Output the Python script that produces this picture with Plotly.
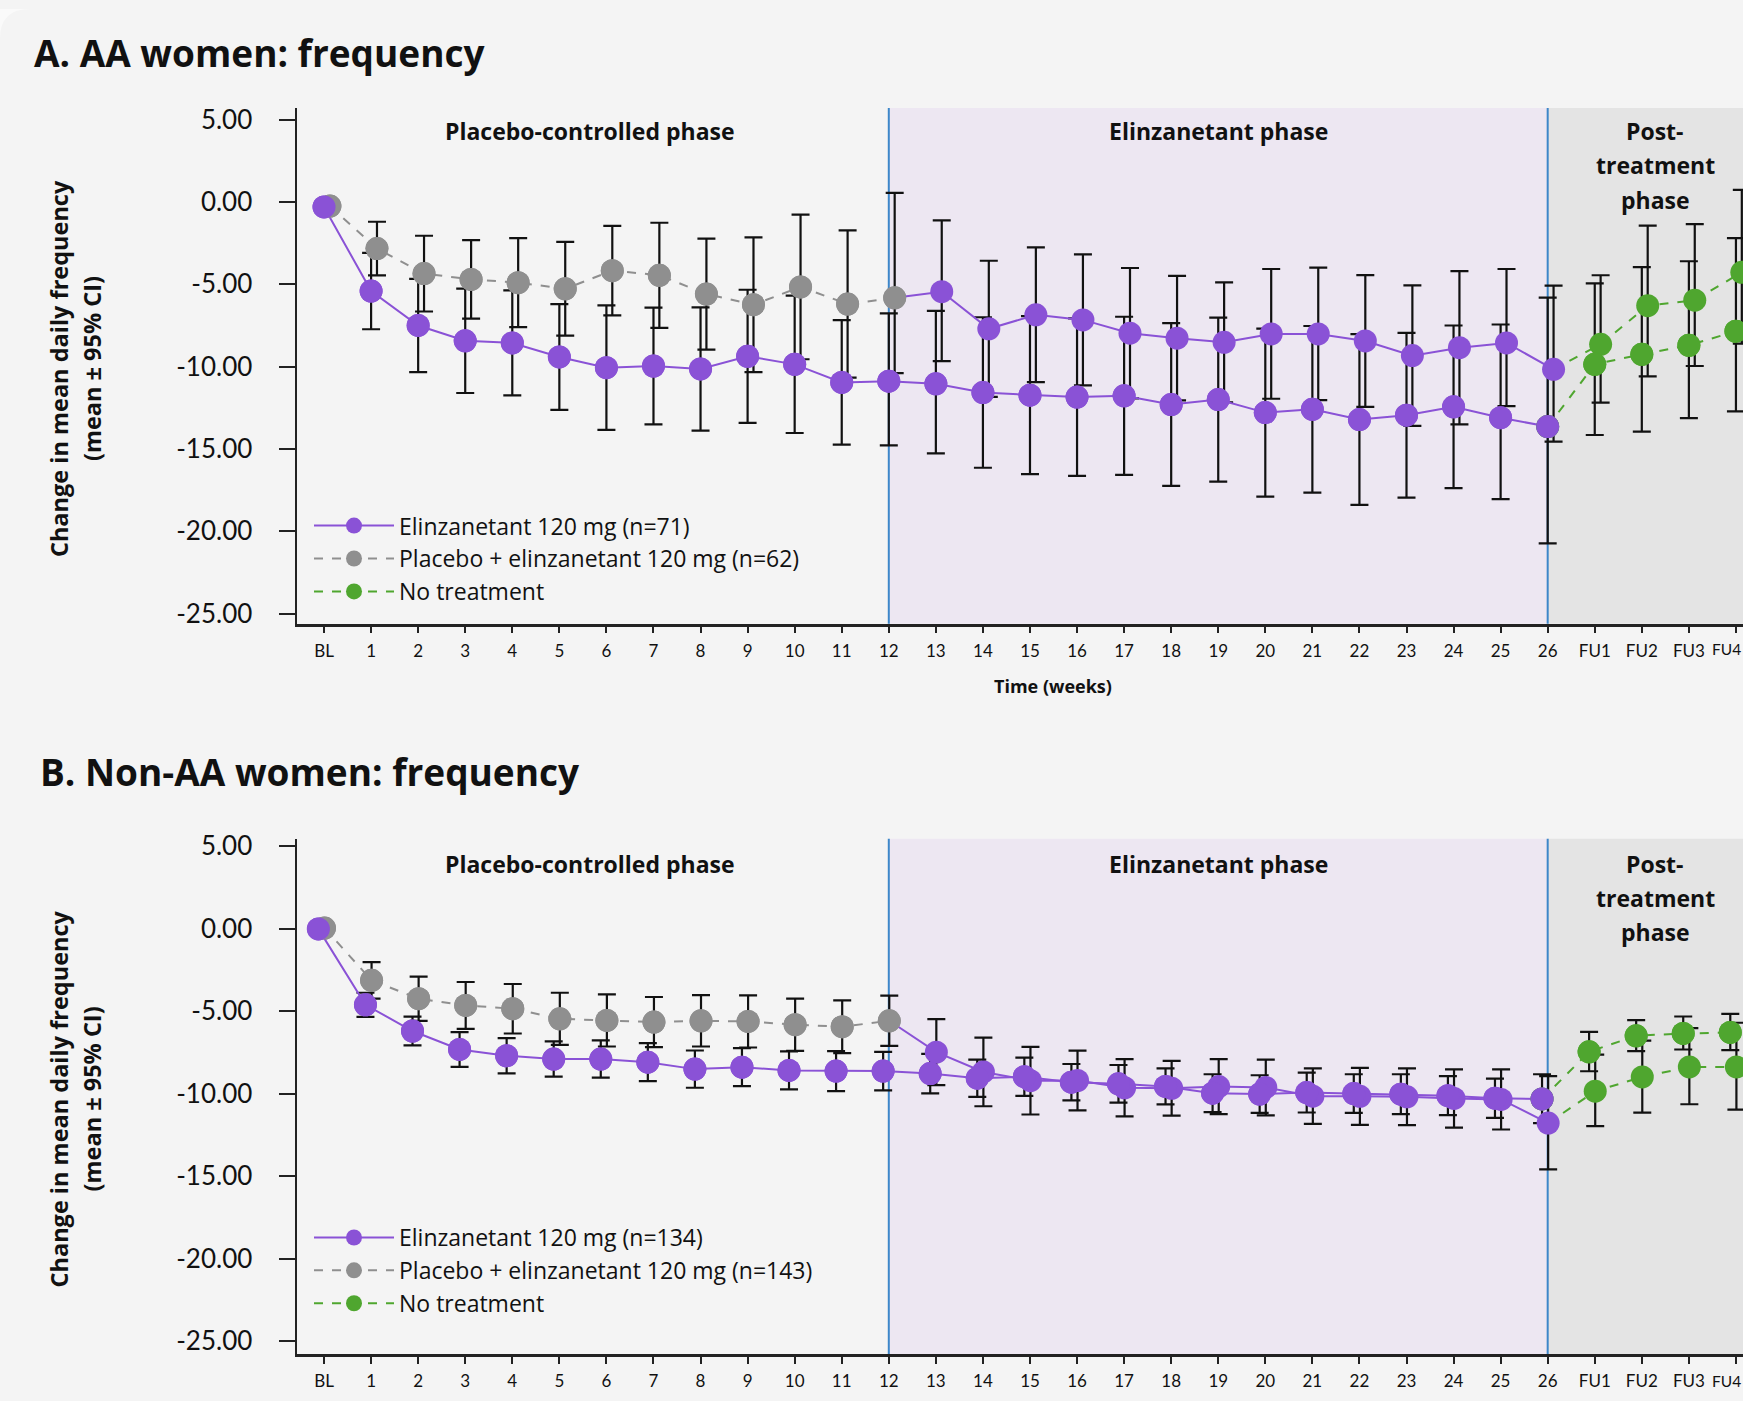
import numpy as np
import plotly.graph_objects as go

W, H = 1743, 1401

# ---------------- data ----------------
x_labels = ["BL"] + [str(i) for i in range(1, 27)] + ["FU1", "FU2", "FU3", "FU4"]

# Panel A: AA women (Elinzanetant 120 mg group, n=71)
a_elz_mean = [-0.30, -5.41, -7.50, -8.43, -8.56, -9.41, -10.06, -9.96, -10.14, -9.37, -9.86, -10.96, -10.88,
              -11.04, -11.57, -11.73, -11.85, -11.77, -12.30, -12.00, -12.79, -12.59, -13.21, -12.95, -12.44,
              -13.10, -13.64, -9.86, -9.25, -8.70, -7.85]
a_elz_lo = [None, -7.73, -10.33, -11.60, -11.75, -12.62, -13.84, -13.50, -13.88, -13.41, -14.03, -14.74, -14.78,
            -15.27, -16.14, -16.53, -16.63, -16.57, -17.24, -16.98, -17.89, -17.65, -18.39, -17.95, -17.38,
            -18.05, -20.73, -14.15, -13.94, -13.13, -12.71]
a_elz_hi = [None, -3.09, -4.67, -5.26, -5.37, -6.20, -6.28, -6.42, -6.40, -5.33, -5.69, -7.18, -6.77,
            -6.61, -7.00, -6.93, -7.07, -6.97, -7.36, -7.02, -7.69, -7.53, -8.03, -7.95, -7.50,
            -7.44, -5.81, -4.94, -3.95, -3.60, -2.20]
# Panel A: AA women (Placebo + elinzanetant 120 mg group, n=62)
a_pbo_mean = [-0.25, -2.83, -4.35, -4.70, -4.90, -5.27, -4.17, -4.45, -5.59, -6.24, -5.16, -6.20, -5.82,
              -5.45, -7.70, -6.85, -7.16, -7.97, -8.27, -8.52, -8.01, -8.01, -8.44, -9.33, -8.85,
              -8.56, -10.16, -8.64, -6.30, -5.96, -4.27]
a_pbo_lo = [None, -4.46, -6.65, -7.08, -7.60, -8.12, -6.89, -7.64, -8.96, -10.33, -9.55, -10.67, -10.39,
            -9.66, -11.83, -10.94, -11.14, -11.93, -12.05, -12.16, -11.95, -12.03, -12.44, -13.60, -13.50,
            -12.40, -14.55, -12.18, -10.59, -9.96, -8.60]
a_pbo_hi = [None, -1.20, -2.05, -2.32, -2.20, -2.42, -1.45, -1.26, -2.22, -2.15, -0.77, -1.73, 0.55,
            -1.12, -3.57, -2.76, -3.18, -4.01, -4.49, -4.88, -4.07, -3.99, -4.44, -5.06, -4.20,
            -4.07, -5.08, -4.45, -1.43, -1.34, 0.73]

# Panel B: Non-AA women (Elinzanetant 120 mg group, n=134)
b_elz_mean = [0.00, -4.60, -6.19, -7.31, -7.69, -7.89, -7.89, -8.08, -8.50, -8.38, -8.58, -8.62, -8.62,
              -8.77, -9.05, -8.96, -9.29, -9.39, -9.55, -9.96, -10.01, -9.92, -9.98, -10.02, -10.11,
              -10.26, -10.31, -7.45, -6.48, -6.34, -6.28]
b_elz_lo = [None, -5.33, -7.06, -8.36, -8.76, -8.96, -9.02, -9.23, -9.63, -9.53, -9.73, -9.83, -9.79,
            -9.97, -10.18, -10.12, -10.39, -10.53, -10.64, -11.11, -11.15, -11.13, -11.15, -11.23, -11.29,
            -11.45, -11.77, -8.63, -7.41, -7.31, -7.35]
b_elz_hi = [None, -3.87, -5.32, -6.26, -6.62, -6.82, -6.76, -6.93, -7.37, -7.23, -7.43, -7.41, -7.45,
            -7.57, -7.92, -7.80, -8.19, -8.25, -8.46, -8.81, -8.87, -8.71, -8.81, -8.81, -8.93,
            -9.07, -8.81, -6.24, -5.53, -5.31, -5.15]
# Panel B: Non-AA women (Placebo + elinzanetant 120 mg group, n=143)
b_pbo_mean = [0.05, -3.12, -4.23, -4.64, -4.84, -5.45, -5.55, -5.65, -5.57, -5.61, -5.81, -5.93, -5.57,
              -7.47, -8.67, -9.20, -9.19, -9.63, -9.66, -9.56, -9.61, -10.14, -10.15, -10.18, -10.28,
              -10.34, -11.77, -9.84, -8.97, -8.37, -8.37]
b_pbo_lo = [None, -4.23, -5.57, -6.06, -6.34, -7.03, -7.13, -7.17, -7.13, -7.19, -7.39, -7.53, -7.09,
            -9.47, -10.75, -11.25, -11.00, -11.36, -11.32, -11.23, -11.30, -11.82, -11.88, -11.90, -12.04,
            -12.16, -14.58, -11.95, -11.14, -10.63, -10.96]
b_pbo_hi = [None, -2.01, -2.89, -3.22, -3.34, -3.87, -3.97, -4.13, -4.01, -4.03, -4.23, -4.33, -4.05,
            -5.47, -6.59, -7.15, -7.38, -7.90, -8.00, -7.89, -7.92, -8.46, -8.42, -8.46, -8.52,
            -8.52, -8.93, -7.62, -6.77, -6.01, -5.69]

legend_a = ["Elinzanetant 120 mg (n=71)", "Placebo + elinzanetant 120 mg (n=62)", "No treatment"]
legend_b = ["Elinzanetant 120 mg (n=134)", "Placebo + elinzanetant 120 mg (n=143)", "No treatment"]

# ---------------- style ----------------
FONT = "Open Sans"
TICKFONT = "Lato"
PURPLE = "#8a52d6"
GRAY = "#8f8f8f"
GREEN = "#4fa62f"
BLUE = "#3d87c9"
SHADE_E = "#ede7f2"
SHADE_P = "#e4e4e4"
BG = "#f4f4f4"
TXT = "#111111"
MS = 23

END_TX = 26   # index of week 26
SWITCH = 12   # index of week 12

fig = go.Figure()


def arr(v):
    return np.array([np.nan if t is None else t for t in v], dtype=float)


def add_panel(xa, ya, leg, names, elz_m, elz_lo, elz_hi, pbo_m, pbo_lo, pbo_hi, off_e, off_p):
    n = len(x_labels)
    idx = np.arange(n, dtype=float)
    xe = idx + off_e
    xp = idx + off_p
    em, el, eh = arr(elz_m), arr(elz_lo), arr(elz_hi)
    pm, pl, ph = arr(pbo_m), arr(pbo_lo), arr(pbo_hi)

    common = dict(xaxis=xa, yaxis=ya, hoverinfo="skip")

    # error bars (drawn beneath everything else)
    for xx, m, lo, hi in ((xp, pm, pl, ph), (xe, em, el, eh)):
        fig.add_trace(go.Scatter(
            x=xx[1:], y=m[1:], mode="markers", marker=dict(size=2, opacity=0),
            error_y=dict(type="data", symmetric=False, array=(hi - m)[1:], arrayminus=(m - lo)[1:],
                         color="#111111", thickness=2.2, width=9),
            showlegend=False, **common))

    # line segments
    fig.add_trace(go.Scatter(
        x=xp[:SWITCH + 1], y=pm[:SWITCH + 1], mode="lines+markers", name=names[1],
        line=dict(color=GRAY, width=2, dash="dash"), marker=dict(color=GRAY, size=MS),
        legend=leg, legendrank=2, **common))
    fig.add_trace(go.Scatter(
        x=xp[SWITCH:END_TX + 1], y=pm[SWITCH:END_TX + 1], mode="lines",
        line=dict(color=PURPLE, width=2), showlegend=False, **common))
    fig.add_trace(go.Scatter(
        x=xe[:END_TX + 1], y=em[:END_TX + 1], mode="lines+markers", name=names[0],
        line=dict(color=PURPLE, width=2), marker=dict(color=PURPLE, size=MS),
        legend=leg, legendrank=1, **common))
    fig.add_trace(go.Scatter(
        x=xe[END_TX:], y=em[END_TX:], mode="lines+markers", name=names[2],
        line=dict(color=GREEN, width=2, dash="dash"), marker=dict(color=GREEN, size=MS),
        legend=leg, legendrank=3, **common))
    fig.add_trace(go.Scatter(
        x=xp[END_TX:], y=pm[END_TX:], mode="lines",
        line=dict(color=GREEN, width=2, dash="dash"), showlegend=False, **common))

    # markers on top
    col_p = [GRAY if i <= SWITCH else (PURPLE if i <= END_TX else GREEN) for i in range(n)]
    col_e = [PURPLE if i <= END_TX else GREEN for i in range(n)]
    fig.add_trace(go.Scatter(x=xp, y=pm, mode="markers", marker=dict(color=col_p, size=MS),
                             showlegend=False, **common))
    fig.add_trace(go.Scatter(x=xe, y=em, mode="markers", marker=dict(color=col_e, size=MS),
                             showlegend=False, **common))


add_panel("x", "y", "legend", legend_a, a_elz_mean, a_elz_lo, a_elz_hi,
          a_pbo_mean, a_pbo_lo, a_pbo_hi, 0.0, 0.125)
add_panel("x2", "y2", "legend2", legend_b, b_elz_mean, b_elz_lo, b_elz_hi,
          b_pbo_mean, b_pbo_lo, b_pbo_hi, -0.12, 0.01)

# vertical placement: target pixel rows (measured on the reference) -> paper fraction,
# with a small correction for the page offset/scale observed in rendering
V_OFF, V_SCALE = 8.1, 0.9895


def py(p):
    return 1 - ((p - V_OFF) / V_SCALE) / H


def px(p):
    return p / W


x_left = 296.5
xrange_ = [-0.585, 30.15]
tickvals = list(range(len(x_labels)))

xaxis_common = dict(
    range=xrange_, domain=[px(x_left), 1], tickmode="array", tickvals=tickvals, ticktext=x_labels,
    showgrid=False, zeroline=False, showline=True, linecolor="#222222", linewidth=2.5,
    ticks="outside", ticklen=7, tickwidth=1.5, tickcolor="#222222",
    tickfont=dict(family=TICKFONT, size=17, color=TXT), ticklabelstandoff=3,
)
yaxis_common = dict(
    tickmode="array", tickvals=[5, 0, -5, -10, -15, -20, -25],
    ticktext=["5.00", "0.00", "-5.00", "-10.00", "-15.00", "-20.00", "-25.00"],
    showgrid=False, zeroline=False, showline=True, linecolor="#222222", linewidth=2,
    ticks="outside", ticklen=16, tickwidth=2, tickcolor="#222222",
    tickfont=dict(family=TICKFONT, size=26, color=TXT), ticklabelstandoff=21,
)

layout = dict(
    width=W, height=H, margin=dict(l=0, r=0, t=0, b=0), autosize=False,
    paper_bgcolor=BG, plot_bgcolor=BG, showlegend=True,
    xaxis=dict(**xaxis_common, anchor="y"),
    yaxis=dict(**yaxis_common, domain=[py(622.5), py(107)], range=[-25.61, 5.71], anchor="x"),
    xaxis2=dict(**xaxis_common, anchor="y2"),
    yaxis2=dict(**yaxis_common, domain=[py(1352.3), py(837.3)], range=[-25.76, 5.47], anchor="x2"),
)
leg_common = dict(font=dict(family=FONT, size=23, color=TXT), bgcolor="rgba(0,0,0,0)",
                  xanchor="left", yanchor="top", itemwidth=80, traceorder="normal")
layout["legend"] = dict(**leg_common, x=px(309), y=py(503))
layout["legend2"] = dict(**leg_common, x=px(309), y=py(1214.5))
fig.update_layout(**layout)

shapes = []
# rounded card corner
shapes.append(dict(type="path", xref="paper", yref="paper",
                   path=f"M 0,1 L {px(30)},1 Q 0,1 0,{1 - 30 / H} Z",
                   fillcolor="#fafafa", line=dict(width=0), layer="below"))
for xr, yr in (("x", "y"), ("x2", "y2")):
    shapes.append(dict(type="rect", xref=xr, yref=f"{yr} domain", x0=SWITCH, x1=END_TX, y0=0, y1=1,
                       fillcolor=SHADE_E, line=dict(width=0), layer="below"))
    shapes.append(dict(type="rect", xref=xr, yref=f"{yr} domain", x0=END_TX, x1=31, y0=0, y1=1,
                       fillcolor=SHADE_P, line=dict(width=0), layer="below"))
    for xv in (SWITCH, END_TX):
        shapes.append(dict(type="line", xref=xr, yref=f"{yr} domain", x0=xv, x1=xv, y0=0, y1=1,
                           line=dict(color=BLUE, width=2), layer="below"))
fig.update_layout(shapes=shapes)

ann = []
bold = dict(family=FONT, size=23, color=TXT)
# titles
ann.append(dict(text="<b>A. AA women: frequency</b>", xref="paper", yref="paper", x=px(32), y=py(52),
                xanchor="left", yanchor="middle", showarrow=False, font=dict(family=FONT, size=37, color=TXT)))
ann.append(dict(text="<b>B. Non-AA women: frequency</b>", xref="paper", yref="paper", x=px(38), y=py(770),
                xanchor="left", yanchor="middle", showarrow=False, font=dict(family=FONT, size=37, color=TXT)))
# phase labels
for (yp1, yp2, yp3) in ((130, 164.5, 199), (862.6, 896.5, 930.5)):
    ann.append(dict(text="<b>Placebo-controlled phase</b>", xref="paper", yref="paper", x=px(590), y=py(yp1),
                    xanchor="center", yanchor="middle", showarrow=False, font=bold))
    ann.append(dict(text="<b>Elinzanetant phase</b>", xref="paper", yref="paper", x=px(1218), y=py(yp1),
                    xanchor="center", yanchor="middle", showarrow=False, font=bold))
    for t, yy in (("Post-", yp1), ("treatment", yp2), ("phase", yp3)):
        ann.append(dict(text=f"<b>{t}</b>", xref="paper", yref="paper", x=px(1655), y=py(yy),
                        xanchor="center", yanchor="middle", showarrow=False, font=bold))
# y-axis titles
for yc in (368, 1098):
    ann.append(dict(text="<b>Change in mean daily frequency</b>", xref="paper", yref="paper", x=px(59),
                    y=py(yc), textangle=-90, xanchor="center", yanchor="middle", showarrow=False,
                    font=dict(family=FONT, size=23.5, color=TXT)))
    ann.append(dict(text="<b>(mean ± 95% CI)</b>", xref="paper", yref="paper", x=px(92),
                    y=py(yc), textangle=-90, xanchor="center", yanchor="middle", showarrow=False,
                    font=dict(family=FONT, size=23.5, color=TXT)))
# the last category label sits on the page edge: keep it inside the page (right-aligned, slightly smaller)
for yl in (648, 1379):
    ann.append(dict(text=x_labels[-1], xref="paper", yref="paper", x=1, y=py(yl),
                    xanchor="right", yanchor="middle", showarrow=False,
                    font=dict(family=TICKFONT, size=15.5, color=TXT)))
# x-axis title (panel A; panel B's lies below the visible page edge in the reference)
ann.append(dict(text="<b>Time (weeks)</b>", xref="paper", yref="paper", x=px(1053), y=py(685),
                xanchor="center", yanchor="middle", showarrow=False, font=dict(family=FONT, size=18, color=TXT)))
fig.update_layout(annotations=ann)

post = "document.body.style.margin='0px';document.body.style.overflow='hidden';"
fig.write_html("out.html", config={"displayModeBar": False}, post_script=post)
